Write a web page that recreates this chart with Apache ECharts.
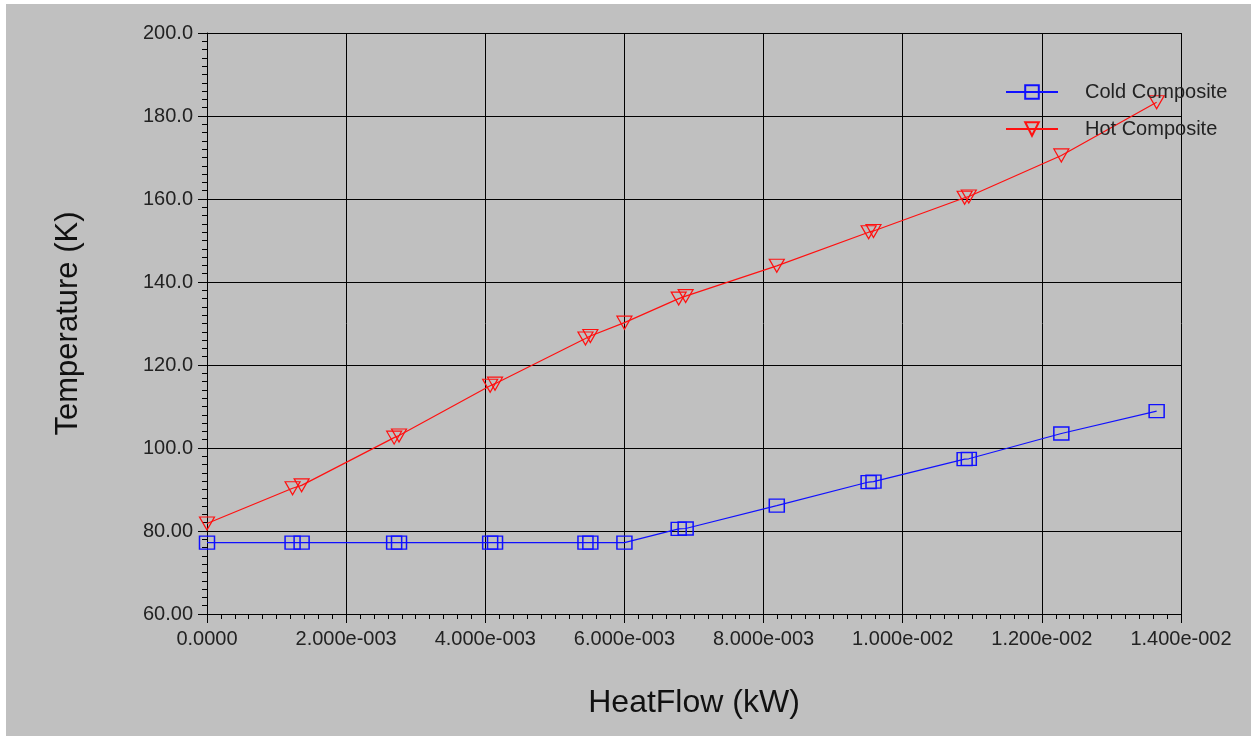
<!DOCTYPE html>
<html>
<head>
<meta charset="utf-8">
<script src="https://cdn.jsdelivr.net/npm/echarts@6/dist/echarts.min.js"></script>
<style>
  html, body { margin: 0; padding: 0; background: #ffffff; }
  #bg { position: absolute; left: 6px; top: 4px; right: 0; bottom: 0; background: #c0c0c0; }
  #chart { position: absolute; left: 0; top: 0; width: 1251px; height: 736px; }
</style>
</head>
<body>
<div id="bg"></div>
<div id="chart"></div>
<script>
// ---- data ----
var heatFlow = [0, 0.00123, 0.00136, 0.00269, 0.00276, 0.00407, 0.00414, 0.00544, 0.00551, 0.00600,
                0.00678, 0.00688, 0.00819, 0.00951, 0.00958, 0.01089, 0.01095, 0.01228, 0.01365];
var coldT = [77.2, 77.2, 77.2, 77.2, 77.2, 77.2, 77.2, 77.2, 77.2, 77.2,
             80.5, 80.6, 86.1, 91.8, 91.9, 97.3, 97.4, 103.5, 108.9];
var hotT  = [81.8, 90.3, 91.0, 102.5, 103.0, 115.0, 115.5, 126.4, 127.0, 130.2,
             136.0, 136.6, 143.9, 152.0, 152.3, 160.3, 160.6, 170.5, 183.3];
var seriesNames = ['Cold Composite', 'Hot Composite'];
var xTicks = { min: 0, max: 0.014, interval: 0.002 };
var yTicks = { min: 60, max: 200, interval: 20 };

function zip(xs, ys) { return xs.map(function (x, i) { return [x, ys[i]]; }); }

function fmtX(v) {
  if (Math.abs(v) < 1e-12) return '0.0000';
  var s = v.toExponential(3);
  var parts = s.split('e');
  var exp = parseInt(parts[1], 10);
  var sign = exp < 0 ? '-' : '+';
  var e = String(Math.abs(exp));
  while (e.length < 3) e = '0' + e;
  return parts[0] + 'e' + sign + e;
}
function fmtY(v) {
  return v >= 100 ? v.toFixed(1) : v.toFixed(2);
}

var chart = echarts.init(document.getElementById('chart'), null, { renderer: 'canvas' });
var font = 'Liberation Sans, Arial, sans-serif';
var axisCommon = {
  axisLine: { show: true, lineStyle: { color: '#000', width: 1 } },
  axisTick: { show: true, inside: false, length: 9, lineStyle: { color: '#000', width: 1 } },
  minorTick: { show: true, splitNumber: 10, length: 5, lineStyle: { color: '#000', width: 1 } },
  splitLine: { show: true, lineStyle: { color: '#000', width: 1 } },
  minorSplitLine: { show: false }
};

chart.setOption({
  animation: false,
  backgroundColor: 'transparent',
  grid: { left: 207, right: 70, top: 33, bottom: 122, containLabel: false },
  legend: {
    orient: 'vertical',
    left: 1005,
    top: 82,
    padding: 0,
    itemWidth: 52,
    itemHeight: 17,
    itemGap: 17,
    data: seriesNames,
    textStyle: { fontFamily: font, fontSize: 20, color: '#222', lineHeight: 20, padding: [0, 0, 0, 22] }
  },
  xAxis: Object.assign({
    type: 'value',
    min: xTicks.min, max: xTicks.max, interval: xTicks.interval,
    name: 'HeatFlow (kW)',
    nameLocation: 'middle',
    nameGap: 73,
    nameTextStyle: { fontFamily: font, fontSize: 32, color: '#111' },
    axisLabel: { formatter: fmtX, fontFamily: font, fontSize: 20, color: '#222', margin: 15 }
  }, axisCommon),
  yAxis: Object.assign({
    type: 'value',
    min: yTicks.min, max: yTicks.max, interval: yTicks.interval,
    name: 'Temperature (K)',
    nameLocation: 'middle',
    nameGap: 123,
    nameTextStyle: { fontFamily: font, fontSize: 31, color: '#111' },
    axisLabel: { formatter: fmtY, fontFamily: font, fontSize: 20, color: '#222', margin: 14 }
  }, axisCommon),
  series: [
    {
      name: seriesNames[0],
      type: 'line',
      data: zip(heatFlow, coldT),
      symbol: 'rect',
      symbolSize: [15, 13],
      showAllSymbol: true,
      clip: false,
      lineStyle: { color: '#1010ff', width: 1.2 },
      itemStyle: { color: 'rgba(0,0,0,0)', borderColor: '#1010ff', borderWidth: 1.4 }
    },
    {
      name: seriesNames[1],
      type: 'line',
      data: zip(heatFlow, hotT),
      symbol: 'path://M0,0L10,0L5,9Z',
      symbolSize: [15, 13],
      showAllSymbol: true,
      clip: false,
      lineStyle: { color: '#ff1010', width: 1.2 },
      itemStyle: { color: 'rgba(0,0,0,0)', borderColor: '#ff1010', borderWidth: 1.2 }
    }
  ]
});
</script>
</body>
</html>
